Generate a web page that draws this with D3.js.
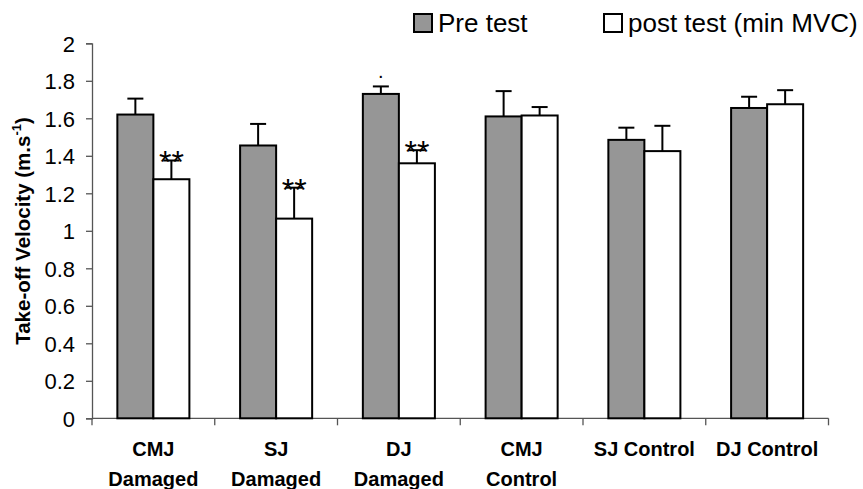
<!DOCTYPE html>
<html>
<head>
<meta charset="utf-8">
<script src="https://cdn.jsdelivr.net/npm/d3@7"></script>
<style>
  html, body { margin: 0; padding: 0; background: #fff; }
  svg { display: block; font-family: Arial, "Liberation Sans", sans-serif; }
</style>
</head>
<body>
<svg id="chart" width="863" height="489"></svg>
<script>
// ---- data ----
const categories = ["CMJ Damaged", "SJ Damaged", "DJ Damaged", "CMJ Control", "SJ Control", "DJ Control"];
const categoryLines = [["CMJ", "Damaged"], ["SJ", "Damaged"], ["DJ", "Damaged"], ["CMJ", "Control"], ["SJ Control"], ["DJ Control"]];
const seriesNames = ["Pre test", "post test (min MVC)"];
const preValues = [1.62, 1.455, 1.73, 1.61, 1.485, 1.655];
const preErrors = [0.085, 0.115, 0.04, 0.135, 0.065, 0.06];
const postValues = [1.275, 1.065, 1.36, 1.615, 1.425, 1.675];
const postErrors = [0.10, 0.165, 0.07, 0.045, 0.135, 0.075];
const preMarks = ["", "", ".", "", "", ""];
const postMarks = ["**", "**", "**", "", "", ""];
const yTicks = [0, 0.2, 0.4, 0.6, 0.8, 1, 1.2, 1.4, 1.6, 1.8, 2];
const seriesColors = ["#969696", "#ffffff"];

// ---- layout ----
const svg = d3.select("#chart");
const plotLeft = 92, plotRight = 828.5, plotTop = 43.3, plotBottom = 418.3;

const x0 = d3.scaleBand().domain(categories).range([plotLeft, plotRight]).padding(0);
const x1 = d3.scaleBand().domain(seriesNames).range([0, x0.bandwidth()]).paddingInner(0).paddingOuter(0.704);
const y = d3.scaleLinear().domain([0, 2]).range([plotBottom, plotTop]);

const rows = categories.map((c, i) => ({
  cat: c,
  vals: [
    { s: seriesNames[0], v: preValues[i], e: preErrors[i], m: preMarks[i] },
    { s: seriesNames[1], v: postValues[i], e: postErrors[i], m: postMarks[i] }
  ]
}));

// y axis
const yAxis = d3.axisLeft(y).tickValues(yTicks).tickSize(6).tickPadding(11)
  .tickFormat(d => d3.format("")(+d.toFixed(1)));
const gy = svg.append("g").attr("transform", `translate(${plotLeft},0)`).call(yAxis);
gy.select(".domain").attr("stroke", "#555").attr("stroke-width", 1.3);
gy.selectAll(".tick line").attr("stroke", "#555").attr("stroke-width", 1.3);
gy.selectAll(".tick text").attr("font-size", 22).attr("fill", "#000")
  .attr("font-family", "Arial, 'Liberation Sans', sans-serif").attr("dy", "0.36em");

// x axis (tick marks at category boundaries)
const boundaries = categories.map(c => x0(c)).concat([plotRight]);
svg.append("line").attr("x1", plotLeft).attr("x2", plotRight).attr("y1", plotBottom).attr("y2", plotBottom)
  .attr("stroke", "#555").attr("stroke-width", 1.3);
svg.append("g").selectAll("line").data(boundaries).join("line")
  .attr("x1", d => d).attr("x2", d => d).attr("y1", plotBottom).attr("y2", plotBottom + 7)
  .attr("stroke", "#555").attr("stroke-width", 1.3);

// category labels
const lab = svg.append("g").selectAll("text").data(categories).join("text")
  .attr("x", d => x0(d) + x0.bandwidth() / 2)
  .attr("y", 456)
  .attr("text-anchor", "middle")
  .attr("font-weight", "bold")
  .attr("font-size", 20)
  .attr("fill", "#000");
lab.each(function(d, i) {
  const t = d3.select(this);
  categoryLines[i].forEach((ln, j) => {
    t.append("tspan").attr("x", x0(d) + x0.bandwidth() / 2).attr("dy", j === 0 ? 0 : 30).text(ln);
  });
});

// bars
const groups = svg.append("g").selectAll("g").data(rows).join("g")
  .attr("transform", d => `translate(${x0(d.cat)},0)`);

// error bars (drawn first, bars on top)
groups.selectAll("g.err").data(d => d.vals).join("g").attr("class", "err").each(function(d) {
  const g = d3.select(this);
  const cx = x1(d.s) + x1.bandwidth() / 2;
  g.append("line").attr("x1", cx).attr("x2", cx).attr("y1", y(d.v)).attr("y2", y(d.v + d.e))
    .attr("stroke", "#000").attr("stroke-width", 2);
  g.append("line").attr("x1", cx - 8).attr("x2", cx + 8).attr("y1", y(d.v + d.e)).attr("y2", y(d.v + d.e))
    .attr("stroke", "#000").attr("stroke-width", 2);
});

groups.selectAll("rect").data(d => d.vals).join("rect")
  .attr("x", d => x1(d.s))
  .attr("y", d => y(d.v))
  .attr("width", x1.bandwidth())
  .attr("height", d => y(0) - y(d.v))
  .attr("fill", (d, i) => seriesColors[i])
  .attr("stroke", "#000")
  .attr("stroke-width", 2);

// significance marks
groups.selectAll("text.mark").data(d => d.vals.filter(v => v.m)).join("text")
  .attr("class", "mark")
  .attr("x", d => x1(d.s) + x1.bandwidth() / 2)
  .attr("y", d => d.m === "." ? y(d.v + d.e) - 8 : y(d.v + d.e) + 13)
  .attr("text-anchor", "middle")
  .attr("font-size", d => d.m === "." ? 20 : 32)
  .attr("fill", "#000")
  .text(d => d.m);

// y title
const yt = svg.append("text")
  .attr("transform", "translate(30,231) rotate(-90)")
  .attr("text-anchor", "middle")
  .attr("font-weight", "bold")
  .attr("font-size", 20.5)
  .attr("fill", "#000");
yt.append("tspan").text("Take-off Velocity (m.s");
yt.append("tspan").attr("font-size", 13).attr("dy", -9).text("-1");
yt.append("tspan").attr("dy", 9).text(")");

// legend
const legendX = [414, 604];
const leg = svg.append("g").selectAll("g").data(seriesNames).join("g")
  .attr("transform", (d, i) => `translate(${legendX[i]},14)`);
leg.append("rect").attr("width", 18).attr("height", 18)
  .attr("fill", (d, i) => seriesColors[i]).attr("stroke", "#000").attr("stroke-width", 2);
leg.append("text").attr("x", 24).attr("y", 18).attr("font-size", 26).attr("fill", "#000").text(d => d);
</script>
</body>
</html>
